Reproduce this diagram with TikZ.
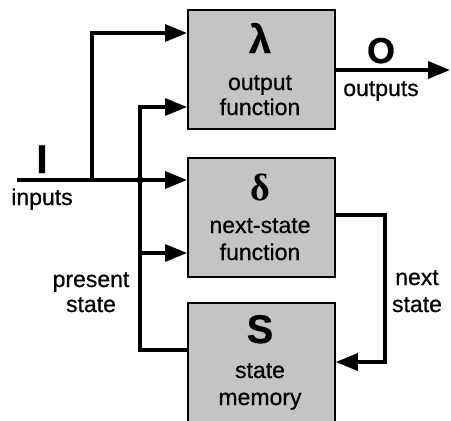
\documentclass[tikz,border=0pt]{standalone}
\usepackage{fontspec}
\setmainfont{Liberation Sans}[FakeBold=0.6]
\newfontfamily\greekserif{Liberation Serif}
\usetikzlibrary{arrows.meta}
\definecolor{boxgray}{RGB}{196,196,196}
\tikzset{
  block/.style={draw=black, line width=1.8pt, fill=boxgray, inner sep=0pt,
    minimum width=147pt, minimum height=119pt, anchor=north west},
  wire/.style={line width=3.4pt},
  arr/.style={-{Triangle[length=22pt,width=17pt]}},
  lbl/.style={anchor=base, inner sep=0pt, font=\fontsize{23}{23}\selectfont},
  sym/.style={anchor=base, inner sep=0pt, font=\fontsize{40}{40}\selectfont\bfseries},
}
\begin{document}
\begin{tikzpicture}[x=1pt, y=-1pt]
\useasboundingbox (0,0) rectangle (451,421);

% the three blocks
\node[block] (lam) at (187,9) {};
\node[block] (del) at (187,157) {};
\node[block, minimum height=120pt] (mem) at (187,302) {};

% block contents
\node[sym] (lamsym) at (260,53) {λ};
\node[lbl] (lamt1) at (260,90) {output};
\node[lbl] (lamt2) at (260,115) {function};
\node[sym, font=\fontsize{38}{38}\selectfont\bfseries\greekserif] (delsym) at (260,200) {δ};
\node[lbl] (delt1) at (260,233) {next-state};
\node[lbl] (delt2) at (260,260) {function};
\node[sym] (memsym) at (260,343) {S};
\node[lbl] (memt1) at (260,378) {state};
\node[lbl] (memt2) at (260,405) {memory};

% outer labels
\node[sym] (isym) at (42,173) {I};
\node[lbl] (inl) at (42,205) {inputs};
\node[sym, font=\fontsize{36}{36}\selectfont\bfseries] (osym) at (381,63) {O};
\node[lbl] (outl) at (381,96) {outputs};
\node[lbl] (ps1) at (91,287) {present};
\node[lbl] (ps2) at (91,312) {state};
\node[lbl] (ns1) at (417,285) {next};
\node[lbl] (ns2) at (417,312) {state};

% wiring points
\coordinate (src) at (17,180);
\coordinate (b1) at (92,180);
\coordinate (b2) at (140,180);
\coordinate (ptop) at (140,107);
\coordinate (pmid) at (140,253);
\coordinate (outend) at (450,70);

% inputs
\draw[wire, arr] (src) -- ([yshift=-23pt]del.north west);
\draw[wire, arr] (b1) |- ([yshift=-24pt]lam.north west);

% present state feedback
\draw[wire, arr] ([yshift=-48pt]mem.north west) -| (ptop) -- ([yshift=-98pt]lam.north west);
\draw[wire, arr] (pmid) -- ([yshift=-96pt]del.north west);
\fill (b2) circle (3.6pt);

% outputs
\draw[wire, arr] ([yshift=-61pt]lam.north east) -- (outend);

% next state
\draw[wire, arr] ([yshift=-58pt]del.north east) -- ++(49,0) |- ([yshift=-60pt]mem.north east);
\end{tikzpicture}
\end{document}
